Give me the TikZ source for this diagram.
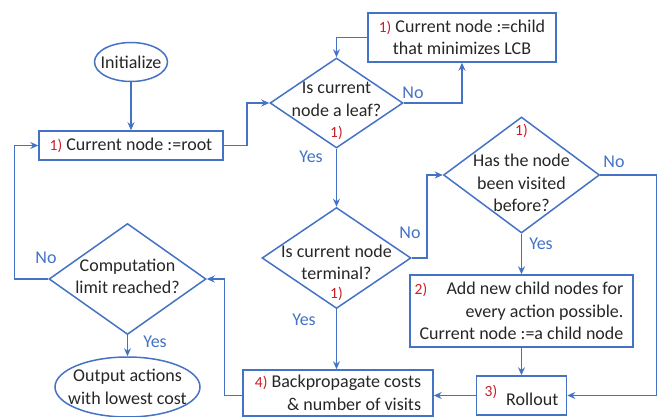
\documentclass[tikz,border=0pt]{standalone}
\usepackage{fontspec}
\setmainfont{Carlito}
\usetikzlibrary{shapes.geometric,arrows.meta}
\definecolor{flowblue}{RGB}{68,114,196}
\definecolor{stepred}{RGB}{200,30,40}
\definecolor{flowtext}{RGB}{38,38,38}
\newcommand{\stepnum}[1]{{\fontsize{15.5}{18}\selectfont\color{stepred}#1}}
\begin{document}
\begin{tikzpicture}
[x=1pt,y=-1pt,font=\fontsize{18}{22.5}\selectfont,text=flowtext,
 boxdecorate/.style={shape=rectangle,draw=flowblue,line width=1.5pt,inner sep=0pt,align=center},
 decidedecorate/.style={shape=diamond,draw=flowblue,line width=1.5pt,inner sep=0pt},
 termdecorate/.style={shape=ellipse,draw=flowblue,line width=1.5pt,inner sep=0pt},
 arrowdecorate/.style={->,>={Stealth[length=8pt,width=7pt]},draw=flowblue,line width=1.5pt},
 answerdecorate/.style={text=flowblue}]
\useasboundingbox (0,0) rectangle (670,417);
% start and end
\node (init) at (131,62) [termdecorate,minimum width=73pt,minimum height=39pt] {};
\node (init-txt) at (init.center) {Initialize};
\node (output) at (127.5,387) [termdecorate,minimum width=145pt,minimum height=60pt] {};
\node (output-txt) at (output.center) [align=center] {Output actions\\with lowest cost};
% steps
\node (root) at (131,145.5) [boxdecorate,minimum width=184pt,minimum height=29pt] {\stepnum{1)} Current node :=root};
\node (child) at (462,37.5) [boxdecorate,minimum width=188pt,minimum height=49pt] {\stepnum{1)} Current node :=child\\that minimizes LCB};
\node (expand) at (521.5,311) [boxdecorate,align=right,minimum width=223pt,minimum height=72pt] {Add new child nodes for\\every action possible.\\Current node :=a child node};
\node (expand-num) at (421,290) {\stepnum{2)}};
\node (rollout) at (521.5,395.5) [boxdecorate,minimum width=90pt,minimum height=39pt] {\raisebox{9pt}{\stepnum{3)}}\hspace{9pt}Rollout};
\node (backprop) at (338,393) [boxdecorate,align=right,minimum width=190pt,minimum height=46pt] {\stepnum{4)} Backpropagate costs\\\& number of visits};
% decisions
\node (leaf) at (336.5,103) [decidedecorate,minimum width=133pt,minimum height=90pt] {};
\node (leaf-txt) at (336.5,99.5) [align=center] {Is current\\node a leaf?};
\node (leaf-num) at (336.5,133) {\stepnum{1)}};
\node (term) at (336.5,258) [decidedecorate,minimum width=149pt,minimum height=101pt] {};
\node (term-txt) at (336.5,262.5) [align=center] {Is current node\\terminal?};
\node (term-num) at (336.5,294) {\stepnum{1)}};
\node (visit) at (521.5,175) [decidedecorate,minimum width=156pt,minimum height=116pt] {};
\node (visit-txt) at (521.5,183) [align=center] {Has the node\\been visited\\before?};
\node (visit-num) at (521.5,131) {\stepnum{1)}};
\node (comp) at (127.5,279) [decidedecorate,minimum width=157pt,minimum height=111pt] {};
\node (comp-txt) at (127.5,276.5) [align=center] {Computation\\limit reached?};
% answers
\node (leaf-no) at (413,93) [answerdecorate] {No};
\node (leaf-yes) at (311,157) [answerdecorate] {Yes};
\node (term-no) at (410,233) [answerdecorate] {No};
\node (term-yes) at (304,320) [answerdecorate] {Yes};
\node (visit-no) at (614,162) [answerdecorate] {No};
\node (visit-yes) at (541,244) [answerdecorate] {Yes};
\node (comp-no) at (46,258) [answerdecorate] {No};
\node (comp-yes) at (155,342) [answerdecorate] {Yes};
% connectors
\draw[arrowdecorate] (init) -- (root);
\draw[arrowdecorate] (root.east) -- ++(23,0) |- (leaf.west);
\draw[arrowdecorate] (child.west) -| (leaf.north);
\draw[arrowdecorate] (leaf.east) -| (child.south);
\draw[arrowdecorate] (leaf) -- (term);
\draw[arrowdecorate] (term.east) -- ++(15,0) |- (visit.west);
\draw[arrowdecorate] (term.south) -- (term.south |- backprop.north);
\draw[arrowdecorate] (visit) -- (expand);
\draw[arrowdecorate] (visit.east) -- ++(56,0) |- (rollout.east);
\draw[arrowdecorate] (expand) -- (rollout);
\draw[arrowdecorate] (rollout.west) -- (rollout.west -| backprop.east);
\draw[arrowdecorate] (backprop.west |- rollout.west) -- ++(-18,0) |- (comp.east);
\draw[arrowdecorate] (comp.west) -- ++(-34,0) |- (root.west);
\draw[arrowdecorate] (comp) -- (output);
\end{tikzpicture}
\end{document}
